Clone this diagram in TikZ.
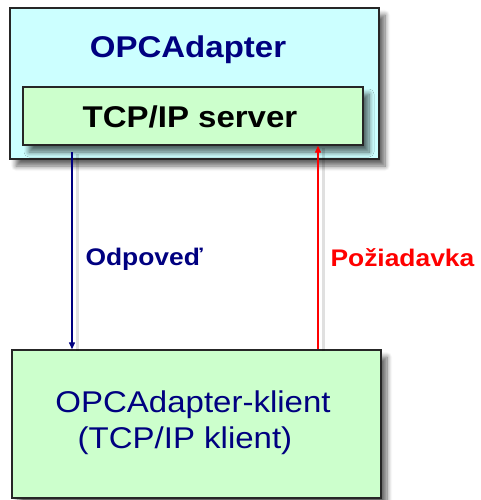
\documentclass[tikz,border=0pt]{standalone}
\usepackage{fontspec}
\setmainfont{Liberation Sans}
\newfontfamily\widesans[FakeStretch=1.1]{Liberation Sans}
\usetikzlibrary{shadows.blur,arrows.meta}
\definecolor{cyanfill}{HTML}{CCFFFF}
\definecolor{greenfill}{HTML}{CCFFCC}
\definecolor{navy}{HTML}{000080}
\definecolor{redarrow}{HTML}{FF0000}
\tikzset{
  box/.style={draw=black!85, line width=1.4pt, inner sep=0pt,
    blur shadow={shadow xshift=6pt, shadow yshift=-7pt, shadow blur steps=8, shadow blur radius=5pt, shadow opacity=60}},
  conn/.style={line width=1.3pt, -{Triangle[length=7pt,width=6pt]},
    preaction={draw=black, draw opacity=0.12, line width=3pt, -, transform canvas={shift={(5pt,-2pt)}}}},
}
\begin{document}
\begin{tikzpicture}[x=1pt,y=-1pt]
\useasboundingbox (0,0) rectangle (481,500);
\node[box, fill=cyanfill, minimum width=369pt, minimum height=151pt] (top) at (194.5,83.5) {};
\node[text=navy, font=\widesans\fontsize{30}{34}\selectfont\bfseries] (toptitle) at (188,50) {OPCAdapter};
\node[box, fill=greenfill, minimum width=340pt, minimum height=58pt] (inner) at (193,116) {};
\node[font=\widesans\fontsize{30}{34}\selectfont\bfseries] (innertext) at (190,117) {TCP/IP server};
\node[box, fill=greenfill, minimum width=369pt, minimum height=148pt] (bot) at (196.5,424) {};
\node[text=navy, font=\widesans\fontsize{30}{36}\selectfont] (botline1) at (193,405) {OPCAdapter-klient};
\node[text=navy, font=\widesans\fontsize{30}{36}\selectfont] (botline2) at (185,441) {(TCP/IP klient)};
\coordinate (bstart) at (72,152);
\coordinate (rx) at (318,0);
\draw[conn, navy] (bstart) -- (bstart |- bot.north);
\draw[conn, redarrow] (rx |- bot.north) -- (rx |- inner.south);
\node[text=navy, font=\widesans\fontsize{24}{28}\selectfont\bfseries, anchor=west] (lblodp) at (82,259) {Odpoveď};
\node[text=redarrow, font=\widesans\fontsize{24}{28}\selectfont\bfseries, anchor=west] (lblpoz) at (327,258) {Požiadavka};
\end{tikzpicture}
\end{document}
